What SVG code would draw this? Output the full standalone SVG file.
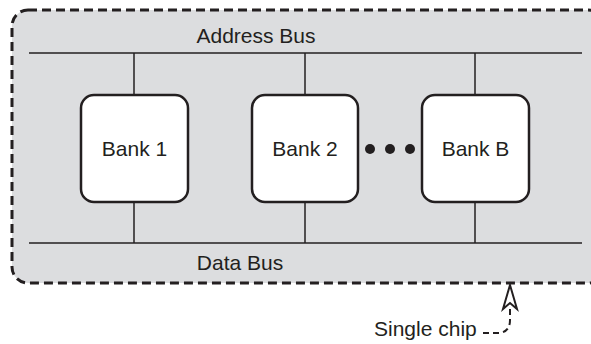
<svg xmlns="http://www.w3.org/2000/svg" width="591" height="344" viewBox="0 0 591 344">
<style>
.t{font-family:"Liberation Sans",Arial,sans-serif;font-size:21px;fill:#231f20}
.bank{fill:#fff;stroke:#231f20;stroke-width:2.5}
.bus{stroke:#231f20;stroke-width:1.5;fill:none}
</style>
<rect x="12" y="10" width="592" height="273" rx="16" fill="#dcdddf" stroke="#231f20" stroke-width="3" stroke-dasharray="9 5"/>
<g id="connectors">
<line class="bus" x1="29" y1="53" x2="582" y2="53"/>
<line class="bus" x1="29" y1="243" x2="582" y2="243"/>
<line class="bus" x1="134" y1="53" x2="134" y2="96"/>
<line class="bus" x1="305" y1="53" x2="305" y2="96"/>
<line class="bus" x1="475" y1="53" x2="475" y2="96"/>
<line class="bus" x1="134" y1="201" x2="134" y2="243"/>
<line class="bus" x1="305" y1="201" x2="305" y2="243"/>
<line class="bus" x1="475" y1="201" x2="475" y2="243"/>
<path d="M483 333 L499 333 Q510 332 510 320 L510 305" fill="none" stroke="#231f20" stroke-width="2" stroke-dasharray="6 4"/>
<path d="M510 285 L503 309 L510 303 L517 309 Z" fill="#fff" stroke="#231f20" stroke-width="2" stroke-linejoin="miter"/>
</g>
<g id="address-bus"><text class="t" x="256" y="43" text-anchor="middle">Address Bus</text></g>
<g id="data-bus"><text class="t" x="240" y="270" text-anchor="middle">Data Bus</text></g>
<g id="bank1"><rect class="bank" x="81" y="95" width="107" height="107" rx="13"/><text class="t" x="134.5" y="156" text-anchor="middle">Bank 1</text></g>
<g id="bank2"><rect class="bank" x="252" y="95" width="106" height="107" rx="13"/><text class="t" x="305" y="156" text-anchor="middle">Bank 2</text></g>
<g id="bankB"><rect class="bank" x="422" y="95" width="107" height="107" rx="13"/><text class="t" x="475.5" y="156" text-anchor="middle">Bank B</text></g>
<g id="dots" fill="#231f20"><circle cx="370" cy="149" r="5"/><circle cx="390" cy="149" r="5"/><circle cx="410" cy="149" r="5"/></g>
<g id="single-chip"><text class="t" x="374" y="336">Single chip</text></g>
</svg>
